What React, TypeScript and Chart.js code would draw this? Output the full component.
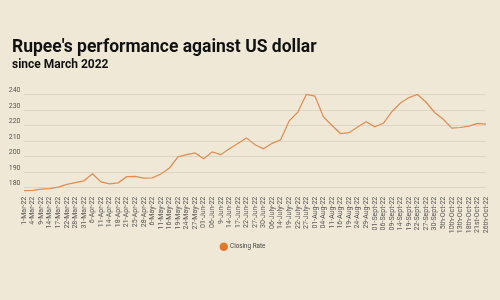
import React, { useEffect, useRef } from "react";
import { Chart, registerables } from "chart.js";

Chart.register(...registerables);

const dates = [
  "1-Mar-22", "4-Mar-22", "9-Mar-22", "14-Mar-22", "17-Mar-22", "22-Mar-22", "28-Mar-22", "31-Mar-22",
  "6-Apr-22", "11-Apr-22", "14-Apr-22", "18-Apr-22", "21-Apr-22", "25-Apr-22", "28-Apr-22",
  "6-May-22", "11-May-22", "16-May-22", "19-May-22", "24-May-22", "27-May-22",
  "01-Jun-22", "06-Jun-22", "9-Jun-22", "14-Jun-22", "17-Jun-22", "22-Jun-22", "27-Jun-22", "30-Jun-22",
  "06-July-22", "14-July-22", "19-July-22", "22-July-22", "27-July-22",
  "01-Aug-22", "04-Aug-22", "11-Aug-22", "16-Aug-22", "19-Aug-22", "24-Aug-22", "29-Aug-22",
  "01-Sept-22", "06-Sept-22", "09-Sept-22", "14-Sept-22", "19-Sept-22", "22-Sept-22", "27-Sept-22", "30-Sept-22",
  "5th-Oct-22", "10th-Oct-22", "13th-Oct-22", "18th-Oct-22", "21st-Oct-22", "26th-Oct-22",
];

const closingRate = [
  178.0, 178.2, 179.0, 179.3, 180.2, 182.0, 183.1, 184.3,
  188.8, 183.6, 182.4, 183.0, 187.0, 187.2, 186.1,
  186.2, 188.7, 192.6, 199.8, 201.2, 202.3,
  198.6, 203.0, 201.2, 205.0, 208.4, 212.0, 207.6, 205.0,
  208.5, 210.8, 223.0, 228.6, 240.0,
  239.0, 225.5, 220.0, 214.8, 215.4, 219.0, 222.4,
  219.2, 221.4, 229.0, 234.5, 238.0, 240.0, 235.0, 228.4,
  224.0, 218.3, 218.7, 219.6, 221.4, 220.9,
];

const yTicks = [180, 190, 200, 210, 220, 230, 240];

const titleText = "Rupee's performance against US dollar";
const subtitleText = "since March 2022";
const seriesName = "Closing Rate";

const BG = "#efe8d7";

const shiftTopBoxes = {
  id: "shiftTopBoxes",
  afterLayout(chart: any) {
    chart.boxes.forEach((b: any) => {
      if (b.position === "top") {
        b.left = 12;
      }
    });
  },
};

export default function App() {
  const ref = useRef<HTMLCanvasElement | null>(null);

  useEffect(() => {
    document.body.style.margin = "0";
    document.body.style.background = BG;
    const canvas = ref.current!;
    Chart.defaults.font.family = "Roboto";
    const chart = new Chart(canvas, {
      type: "line",
      data: {
        labels: dates,
        datasets: [
          {
            label: seriesName,
            data: closingRate,
            borderColor: "#e28b4e",
            backgroundColor: "#df7a2c",
            borderWidth: 1.2,
            pointRadius: 0,
            tension: 0,
          },
        ],
      },
      plugins: [shiftTopBoxes],
      options: {
        animation: false,
        responsive: false,
        layout: { padding: { top: 0, left: 0, right: 14, bottom: 40 } },
        plugins: {
          title: {
            display: true,
            text: titleText,
            align: "start",
            color: "#111",
            font: { size: 17.5, weight: "bold", family: "Roboto" },
            padding: { top: 37, bottom: 0 },
          },
          subtitle: {
            display: true,
            text: subtitleText,
            align: "start",
            color: "#111",
            font: { size: 12, weight: "bold", family: "Roboto" },
            padding: { top: 0, bottom: 19 },
          },
          legend: {
            position: "bottom",
            labels: {
              usePointStyle: true,
              pointStyle: "circle",
              boxHeight: 6,
              color: "#444",
              font: { size: 6.3, family: "Roboto" },
              padding: 10,
              generateLabels: (c: any) =>
                c.data.datasets.map((ds: any, i: number) => ({
                  text: ds.label,
                  fillStyle: ds.backgroundColor,
                  strokeStyle: ds.backgroundColor,
                  lineWidth: 0,
                  pointStyle: "circle",
                  hidden: false,
                  datasetIndex: i,
                  fontColor: "#444",
                })),
            },
          },
          tooltip: { enabled: false },
        },
        scales: {
          x: {
            offset: false,
            grid: { display: false, drawTicks: false },
            border: { display: false },
            ticks: {
              autoSkip: false,
              maxRotation: 90,
              minRotation: 90,
              padding: 3,
              color: "#555",
              font: { size: 7, family: "Roboto" },
            },
            afterFit: (s: any) => {
              s.height = 40;
            },
          },
          y: {
            min: 176,
            max: 242,
            grid: { color: "#dcd5c4", drawTicks: false, lineWidth: 1 },
            border: { display: false },
            afterBuildTicks: (s: any) => {
              s.ticks = yTicks.map((v) => ({ value: v }));
            },
            ticks: {
              padding: 3.5,
              labelOffset: -4,
              color: "#555",
              font: { size: 7, family: "Roboto" },
            },
            afterFit: (s: any) => {
              s.width = 24;
            },
          },
        },
      },
    });
    return () => chart.destroy();
  }, []);

  return (
    <canvas
      ref={ref}
      width={500}
      height={300}
      style={{ display: "block", width: 500, height: 300, background: BG }}
    />
  );
}
